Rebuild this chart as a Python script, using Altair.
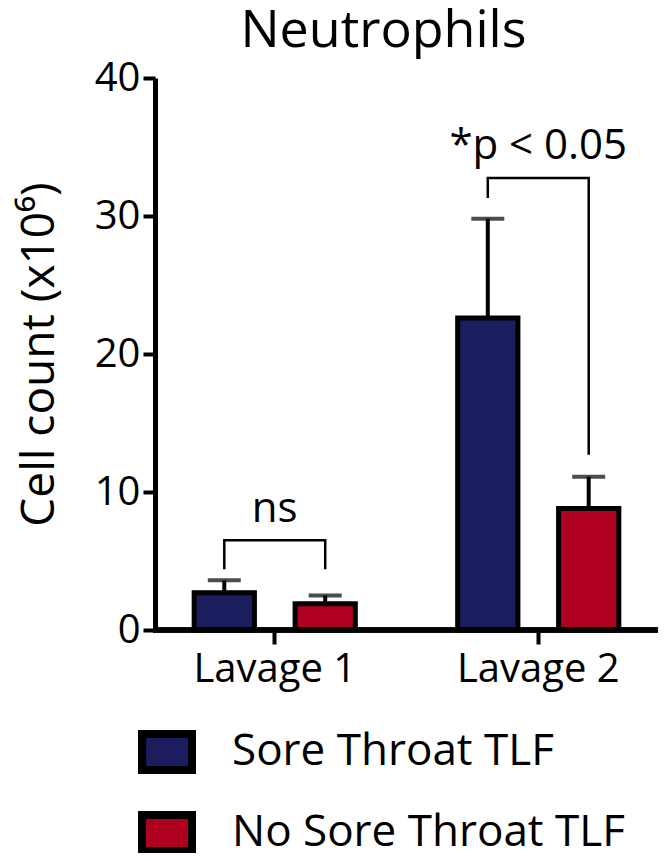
import altair as alt
import pandas as pd

groups = ["Lavage 1", "Lavage 2"]
series = ["Sore Throat TLF", "No Sore Throat TLF"]
colors = ["#1c1d5e", "#b0001f"]
means = [2.7, 1.9, 22.6, 8.8]
uppers = [3.6, 2.5, 29.8, 11.1]
yticks = [0, 10, 20, 30, 40]
title_text = ["Neutrophils"]

# brackets: (group, series, y, bracket id, order)
br_group = ["Lavage 1"] * 4 + ["Lavage 2"] * 4
br_series = [series[0], series[0], series[1], series[1]] * 2
br_y = [4.4, 6.5, 6.5, 4.4, 31.3, 32.75, 32.75, 12.7]
br_id = ["a"] * 4 + ["b"] * 4
br_ord = [0, 1, 2, 3] * 2

ann_group = ["Lavage 1", "Lavage 2"]
ann_y = [7.8, 34.1]
ann_text = ["ns", "*p < 0.05"]

FONT = "Open Sans"

bars = pd.DataFrame({
    "group": [g for g in groups for _ in series],
    "series": series * 2,
    "mean": means,
    "upper": uppers,
})
br = pd.DataFrame({"group": br_group, "series": br_series, "y": br_y, "id": br_id, "ord": br_ord})
ann = pd.DataFrame({"group": ann_group, "y": ann_y, "text": ann_text})
ttl = pd.DataFrame({"t": title_text})

W, H = 503, 552

xs = alt.X("group:N", sort=groups,
           scale=alt.Scale(domain=groups, range=[-12, 515], paddingInner=0, paddingOuter=0),
           axis=alt.Axis(title=None, domain=False, labelFontSize=40, labelFont=FONT, labelColor="black",
                         labelAngle=0, tickSize=14, tickWidth=4, tickColor="black", labelPadding=5))
xo = alt.XOffset("series:N", sort=series,
                 scale=alt.Scale(domain=series, paddingInner=0.403, paddingOuter=0.507))
ys = alt.Y("mean:Q", scale=alt.Scale(domain=[0, 40], nice=False),
           axis=alt.Axis(values=yticks, title="Cell count (x10⁶)", grid=False,
                         labelFontSize=40, labelFont=FONT, labelColor="black", labelPadding=3,
                         tickSize=12, tickWidth=4, tickColor="black",
                         domainWidth=5, domainColor="black",
                         titleFont=FONT, titleFontSize=46, titleFontWeight="normal", titleColor="black",
                         titleX=-102, titleY=H / 2, titleAlign="center", titleBaseline="alphabetic",
                         titleAngle=270))

base = alt.Chart(bars)

err = base.mark_rule(strokeWidth=4, color="black").encode(
    x=xs, xOffset=xo, y=alt.Y("mean:Q", scale=alt.Scale(domain=[0, 40], nice=False)), y2="upper:Q")
caps = base.mark_tick(color="black", thickness=4, size=33).encode(
    x=xs, xOffset=xo, y=alt.Y("upper:Q"))
barm = base.mark_bar(stroke="black", strokeWidth=5, opacity=1).encode(
    x=xs, xOffset=xo, y=ys,
    color=alt.Color("series:N", sort=series, scale=alt.Scale(domain=series, range=colors),
                    legend=alt.Legend(title=None, orient="none", legendX=-17, legendY=645,
                                      direction="vertical", symbolType="M-1,-0.72H1V0.72H-1Z",
                                      symbolSize=2500, symbolStrokeColor="black", symbolStrokeWidth=8,
                                      symbolOpacity=1, labelFont=FONT, labelFontSize=44,
                                      labelColor="black", labelOffset=36, rowPadding=13,
                                      labelLimit=600, padding=0)))
brk = alt.Chart(br).mark_line(color="black", strokeWidth=2.5).encode(
    x=xs, xOffset=xo, y=alt.Y("y:Q"), detail="id:N", order="ord:Q")
txt = alt.Chart(ann).mark_text(fontSize=42, font=FONT, baseline="alphabetic", color="black").encode(
    x=xs, y=alt.Y("y:Q"), text="text:N")
xline = alt.Chart(bars).mark_rule(color="black", strokeWidth=5).encode(
    x=alt.value(-2), x2=alt.value(W), y=alt.value(H))
title = alt.Chart(ttl).mark_text(fontSize=52, font=FONT, baseline="alphabetic", align="center",
                                 color="black").encode(
    text="t:N", x=alt.value(228.5), y=alt.value(-31))

chart = alt.layer(err, caps, barm, brk, txt, xline, title).properties(
    width=W, height=H,
    background="white",
    autosize=alt.AutoSizeParams(type="none"),
    padding={"left": 147, "top": 70, "right": 0, "bottom": 223},
).configure_view(strokeWidth=0, stroke="transparent").configure_axis(grid=False)

chart.save("out.html", embed_options={"renderer": "svg", "actions": False})
